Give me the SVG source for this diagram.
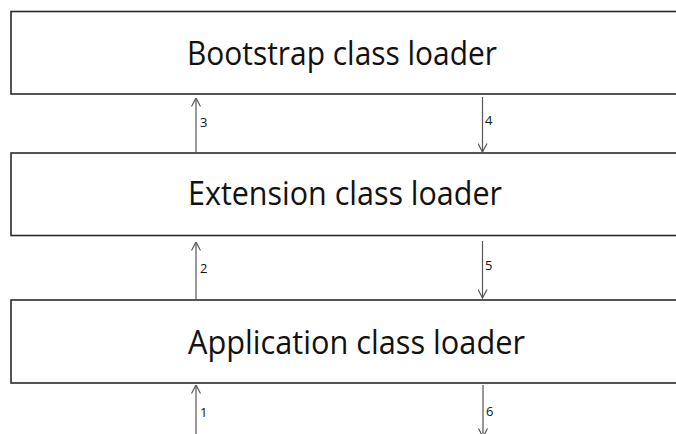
<svg xmlns="http://www.w3.org/2000/svg" width="676" height="434" viewBox="0 0 676 434">
<defs>
<style>
.box{fill:#fff;stroke:#2a2a2a;stroke-width:1.6}
.title{font-family:"Open Sans","Noto Sans",sans-serif;font-size:32px;fill:#111}
.lbl{font-family:"Open Sans","Noto Sans",sans-serif;font-size:13px;fill:#111}
.conn{stroke:#555;stroke-width:1.2;fill:none;marker-end:url(#arr)}
</style>
<marker id="arr" viewBox="0 0 10 10" refX="9.5" refY="5" markerWidth="10" markerHeight="10" markerUnits="userSpaceOnUse" orient="auto">
<path d="M1,0.5 L9.5,5 L1,9.5" fill="none" stroke="#555" stroke-width="1.2"/>
</marker>
</defs>
<rect width="676" height="434" fill="#fff"/>
<g id="bootstrap">
<rect class="box" x="11" y="11.5" width="700" height="82.5"/>
<text class="title" x="187" y="65" textLength="310" lengthAdjust="spacingAndGlyphs">Bootstrap class loader</text>
</g>
<g id="extension">
<rect class="box" x="11" y="153" width="700" height="82.5"/>
<text class="title" x="188" y="205" textLength="314" lengthAdjust="spacingAndGlyphs">Extension class loader</text>
</g>
<g id="application">
<rect class="box" x="11" y="300" width="700" height="83"/>
<text class="title" x="188" y="354" textLength="337" lengthAdjust="spacingAndGlyphs">Application class loader</text>
</g>
<g id="connectors">
<line class="conn" x1="196" y1="153" x2="196" y2="98"/>
<text class="lbl" x="200" y="127">3</text>
<line class="conn" x1="482.5" y1="97" x2="482.5" y2="152"/>
<text class="lbl" x="485" y="125">4</text>
<line class="conn" x1="196" y1="300" x2="196" y2="242"/>
<text class="lbl" x="200" y="273">2</text>
<line class="conn" x1="482.5" y1="241" x2="482.5" y2="298"/>
<text class="lbl" x="485" y="270">5</text>
<line class="conn" x1="196" y1="436" x2="196" y2="385"/>
<text class="lbl" x="200" y="417">1</text>
<line class="conn" x1="483" y1="385" x2="483" y2="437"/>
<text class="lbl" x="486" y="416">6</text>
</g>
</svg>
